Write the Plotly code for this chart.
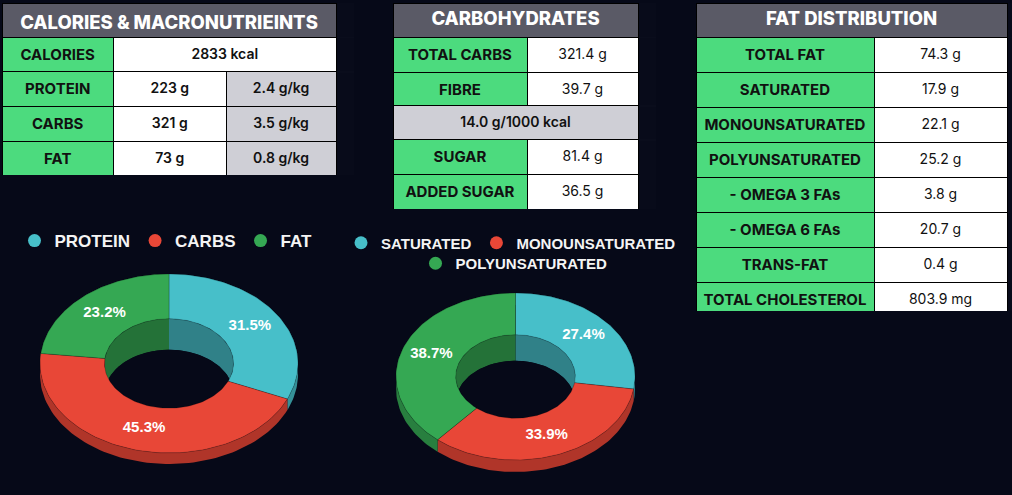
import numpy as np
import plotly.graph_objects as go

# ---------------- data ----------------
t1_title = "CALORIES & MACRONUTRIEINTS"
calories_label = "CALORIES"
calories_value = "2833 kcal"
macro_labels = ["PROTEIN", "CARBS", "FAT"]
macro_grams = ["223 g", "321 g", "73 g"]
macro_per_kg = ["2.4 g/kg", "3.5 g/kg", "0.8 g/kg"]

t2_title = "CARBOHYDRATES"
carb_labels_a = ["TOTAL CARBS", "FIBRE"]
carb_values_a = ["321.4 g", "39.7 g"]
fibre_density = "14.0 g/1000 kcal"
carb_labels_b = ["SUGAR", "ADDED SUGAR"]
carb_values_b = ["81.4 g", "36.5 g"]

t3_title = "FAT DISTRIBUTION"
fat_labels = ["TOTAL FAT", "SATURATED", "MONOUNSATURATED", "POLYUNSATURATED",
              "- OMEGA 3 FAs", "- OMEGA 6 FAs", "TRANS-FAT", "TOTAL CHOLESTEROL"]
fat_values = ["74.3 g", "17.9 g", "22.1 g", "25.2 g", "3.8 g", "20.7 g", "0.4 g", "803.9 mg"]

macro_pie_labels = ["PROTEIN", "CARBS", "FAT"]
macro_pie_pct = [31.5, 45.3, 23.2]
fat_pie_labels = ["SATURATED", "MONOUNSATURATED", "POLYUNSATURATED"]
fat_pie_pct = [27.4, 33.9, 38.7]

# ---------------- style ----------------
W, H = 1012, 495
BG = "#060918"
HEAD = "#5a5a66"
GREEN = "#4cdb7e"
GREY = "#cfcfd6"
WHITE = "#ffffff"
INK = "#111111"
SLICE_COLORS = ["#47bfc9", "#e84737", "#35a853"]
ROW_H = 34
TFONT = "Inter, Roboto, sans-serif"
PFONT = "Liberation Sans, Arial, sans-serif"


def shade(hex_color, f):
    h = hex_color.lstrip("#")
    r, g, b = (int(h[i:i + 2], 16) for i in (0, 2, 4))
    return "rgb(%d,%d,%d)" % (r * f, g * f, b * f)


def keep(items, tag=True):
    # non-breaking spaces so the table never wraps a label onto two lines
    out = [s.replace(" ", "\u00a0") for s in items]
    if tag:
        out = ["<span>%s</span>" % s for s in out]
    return out


def table_block(columns, fills, sizes, weights, x0, x1, y0, widths, colors=None, tag=True):
    nrows = len(columns[0])
    y1 = y0 + nrows * ROW_H
    if colors is None:
        colors = [INK] * len(columns)
    return go.Table(
        domain=dict(x=[x0 / W, x1 / W], y=[max(0, 1 - (y1 + 2) / H), 1 - y0 / H]),
        columnwidth=widths,
        header=dict(
            values=[keep(c, tag) for c in columns],
            fill=dict(color=fills),
            align="center",
            height=ROW_H,
            line=dict(color="#000000", width=1),
            font=dict(family=TFONT, size=sizes, color=colors, weight=weights),
        ),
        cells=dict(values=[]),
    )


def title_block(title, x0, x1):
    return table_block([[title]], [HEAD], [18.5], [800], x0, x1, 3, [1], colors=[WHITE], tag=False)


fig = go.Figure()

# ---- table 1 ----
x0, x1 = 2, 336
fig.add_trace(title_block(t1_title, x0, x1))
fig.add_trace(table_block([[calories_label], [calories_value]], [GREEN, WHITE], [15, 14], [700, 600],
                          x0, x1, 3 + ROW_H, [111.5, 222.5]))
fig.add_trace(table_block([macro_labels, macro_grams, macro_per_kg], [GREEN, WHITE, GREY],
                          [15, 14, 14], [700, 600, 600], x0, x1, 3 + 2 * ROW_H, [111.5, 112.5, 110]))

# ---- table 2 ----
x0, x1 = 393, 638
fig.add_trace(title_block(t2_title, x0, x1))
fig.add_trace(table_block([carb_labels_a, carb_values_a], [GREEN, WHITE], [15, 14], [700, 400],
                          x0, x1, 3 + ROW_H, [134, 111]))
fig.add_trace(table_block([[fibre_density]], [GREY], [14], [600], x0, x1, 3 + 3 * ROW_H, [1]))
fig.add_trace(table_block([carb_labels_b, carb_values_b], [GREEN, WHITE], [15, 14], [700, 400],
                          x0, x1, 3 + 4 * ROW_H, [134, 111]))

# ---- table 3 ----
x0, x1 = 696, 1007
fig.add_trace(title_block(t3_title, x0, x1))
fig.add_trace(table_block([fat_labels, fat_values], [GREEN, WHITE], [15, 14], [700, 400],
                          x0, x1, 3 + ROW_H, [178, 133]))


# ---- 3D-looking donuts (scatter polygons on pixel axes) ----
def arc(cx, cy, a, b, t0, t1, dy=0.0, n=80):
    t = np.linspace(t0, t1, n)
    return list(cx + a * np.sin(t)), list(cy - b * np.cos(t) + dy)


def add_donut(labels, pct, cx, cy, R, B, depth, depth_in, legend_ids):
    r, b = R * 0.5, B * 0.5
    frac = np.array(pct, dtype=float) / np.sum(pct)
    ends = np.cumsum(frac) * 2 * np.pi
    starts = ends - frac * 2 * np.pi
    # outer sides
    for i in range(len(pct)):
        xa, ya = arc(cx, cy, R, B, starts[i], ends[i])
        xb, yb = arc(cx, cy, R, B, ends[i], starts[i], dy=depth)
        fig.add_trace(go.Scatter(x=xa + xb, y=ya + yb, fill="toself", mode="lines",
                                 line=dict(width=0), fillcolor=shade(SLICE_COLORS[i], 0.76),
                                 hoverinfo="skip", showlegend=False))
    # inner walls
    for i in range(len(pct)):
        xa, ya = arc(cx, cy, r, b, starts[i], ends[i])
        xb, yb = arc(cx, cy, r, b, ends[i], starts[i], dy=depth_in)
        fig.add_trace(go.Scatter(x=xa + xb, y=ya + yb, fill="toself", mode="lines",
                                 line=dict(width=0), fillcolor=shade(SLICE_COLORS[i], 0.68),
                                 hoverinfo="skip", showlegend=False))
    # see-through hole
    xh, yh = arc(cx, cy, r, b, 0, 2 * np.pi, dy=depth_in, n=120)
    fig.add_trace(go.Scatter(x=xh, y=yh, fill="toself", mode="lines", line=dict(width=0),
                             fillcolor=BG, hoverinfo="skip", showlegend=False))
    # top faces
    for i in range(len(pct)):
        xa, ya = arc(cx, cy, R, B, starts[i], ends[i])
        xb, yb = arc(cx, cy, r, b, ends[i], starts[i])
        fig.add_trace(go.Scatter(x=xa + xb + [xa[0]], y=ya + yb + [ya[0]], fill="toself",
                                 mode="lines", line=dict(width=0.6, color="rgba(0,0,0,0.35)"),
                                 fillcolor=SLICE_COLORS[i], name=labels[i],
                                 hoverinfo="name", showlegend=False))
    # percentage labels
    mid = (starts + ends) / 2
    fig.add_trace(go.Scatter(
        x=cx + 0.75 * R * np.sin(mid), y=cy - 0.75 * B * np.cos(mid),
        mode="text", text=["%.1f%%" % p for p in pct],
        textfont=dict(family=PFONT, size=15, color="#ffffff", weight="bold"),
        hoverinfo="skip", showlegend=False))
    # legend entries
    for i in range(len(pct)):
        fig.add_trace(go.Scatter(x=[None], y=[None], mode="markers", name=labels[i],
                                 marker=dict(color=SLICE_COLORS[i], size=13),
                                 legend=legend_ids[i], showlegend=True))


add_donut(macro_pie_labels, macro_pie_pct, 169, 363.5, 129, 89.5, 11, 31,
          ["legend", "legend", "legend"])
add_donut(fat_pie_labels, fat_pie_pct, 515.5, 376.5, 119.5, 83.5, 12, 26,
          ["legend2", "legend2", "legend3"])

leg_common = dict(orientation="h", bgcolor="rgba(0,0,0,0)", xanchor="center",
                  yanchor="middle", itemclick=False, itemdoubleclick=False)
fig.update_layout(
    width=W, height=H,
    margin=dict(l=0, r=0, t=0, b=0),
    paper_bgcolor=BG, plot_bgcolor=BG,
    xaxis=dict(range=[0, W], visible=False, fixedrange=True),
    yaxis=dict(range=[H, 0], visible=False, fixedrange=True),
    legend=dict(x=166 / W, y=1 - 241 / H,
                font=dict(family=PFONT, size=17, color="#f4f4f4", weight="bold"), **leg_common),
    legend2=dict(x=511 / W, y=1 - 243 / H,
                 font=dict(family=PFONT, size=15, color="#f4f4f4", weight="bold"), **leg_common),
    legend3=dict(x=514 / W, y=1 - 263.5 / H,
                 font=dict(family=PFONT, size=15, color="#f4f4f4", weight="bold"), **leg_common),
    showlegend=True,
)

fig.write_html(
    "out.html",
    config={"displayModeBar": False},
    post_script="document.body.style.margin='0';document.body.style.background='%s';" % BG,
)
